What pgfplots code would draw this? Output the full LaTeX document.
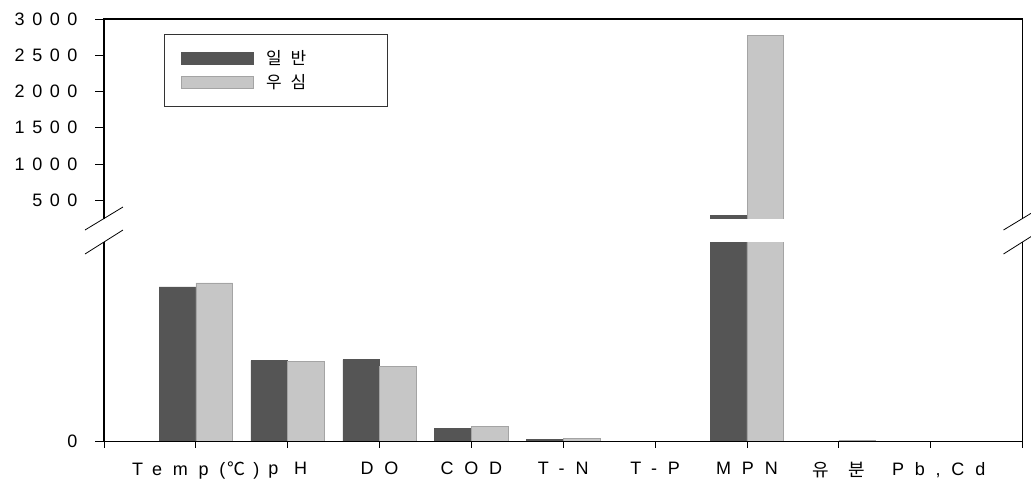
\documentclass[border=0pt]{standalone}
\usepackage{pgfplots}
\pgfplotsset{compat=1.18}
\usepackage{pgfplotstable}
\usepackage{fontspec}
\setmainfont{Liberation Sans}
\newfontfamily\lab[LetterSpace=42]{Liberation Sans}
\newfontfamily\xlab[LetterSpace=60]{Liberation Sans}
\newfontfamily\kr[LetterSpace=30]{Noto Sans CJK KR}
\definecolor{darkbar}{HTML}{555555}
\definecolor{lightbar}{HTML}{C6C6C6}
\definecolor{lightedge}{HTML}{A4A4A4}

\pgfplotstableread{
x a b
1 15.5 15.9
2 8.1 8.0
3 8.2 7.5
4 1.3 1.5
5 0.22 0.35
6 0.02 0.02
7 293 2780
8 0 0.15
9 0 0
}\data

\begin{document}
\begin{tikzpicture}
\pgfplotsset{
  common/.style={
    scale only axis, width=918.5pt,
    xmin=0, xmax=10,
    ybar, bar width=0.4,
    clip mode=individual,
    axis line style={draw=none},
    tick align=outside,
    major tick length=9pt,
    tick style={black, line width=0.8pt},
    ytick pos=left,
    yticklabel style={font=\lab\fontsize{18}{21}\selectfont, xshift=-14pt},
    xticklabel style={font=\xlab\fontsize{18}{21}\selectfont},
  }
}
% lower part
\begin{axis}[common, at={(0pt,0pt)}, anchor=south west, height=199.5pt,
  ymin=0, ymax=20, ytick={0}, yticklabels={0},
  xtick={0,1,2,3,4,5,6,7,8,9,10}, xtick pos=bottom,
  xticklabels={,{Temp(\hspace{2pt}{\kr ℃}\hspace{8pt})},p H,DO,COD,T-N,T-P,MPN,{\kr 유\hspace{20pt}분},{\hspace{16pt}Pb,Cd},},
  xtick style={/pgfplots/major tick length=6pt},
  xticklabel style={yshift=-8pt},
  restrict y to domain*=0:21,
  ]
\addplot[fill=darkbar, draw=darkbar, line width=0.6pt, bar shift=-0.2] table[x=x,y=a]{\data};
\addplot[fill=lightbar, draw=lightedge, line width=0.6pt, bar shift=0.2] table[x=x,y=b]{\data};
\draw[line width=1.5pt] (rel axis cs:0,1) -- (rel axis cs:0,0) -- (rel axis cs:1,0) -- (rel axis cs:1,1);
\draw[line width=0.8pt] ([shift={(-19pt,-12pt)}]rel axis cs:0,1) -- ([shift={(19pt,12pt)}]rel axis cs:0,1);
\draw[line width=0.8pt] ([shift={(-19pt,-12pt)}]rel axis cs:1,1) -- ([shift={(19pt,12pt)}]rel axis cs:1,1);
\end{axis}
% upper part
\begin{axis}[common, at={(0pt,222.5pt)}, anchor=south west, height=200pt,
  ymin=240, ymax=3000,
  restrict y to domain=240:100000,
  ytick={500,1000,1500,2000,2500,3000},
  yticklabels={500,1000,1500,2000,2500,3000},
  xtick=\empty,
  legend style={at={(rel axis cs:0.0654,0.925)}, anchor=north west,
    draw=black!80, line width=0.8pt, fill=white,
    font=\kr\fontsize{17}{20}\selectfont,
    inner xsep=17pt, inner ysep=14.5pt, row sep=4pt, column sep=10pt},
  legend cell align=left,
  every axis plot post/.append style={
    legend image code/.code={\fill[##1] (0pt,-6pt) rectangle (72pt,6pt);}},
  ]
\addplot[fill=darkbar, draw=darkbar, line width=0.6pt, bar shift=-0.2] table[x=x,y=a]{\data};
\addlegendentry{일 반\hspace{62pt}\null}
\addplot[fill=lightbar, draw=lightedge, line width=0.6pt, bar shift=0.2] table[x=x,y=b]{\data};
\addlegendentry{우 심\hspace{62pt}\null}
\draw[line width=1.5pt] (rel axis cs:0,0) -- (rel axis cs:0,1) -- (rel axis cs:1,1) -- (rel axis cs:1,0);
\draw[line width=0.8pt] ([shift={(-19pt,-11pt)}]rel axis cs:0,0) -- ([shift={(19pt,12pt)}]rel axis cs:0,0);
\draw[line width=0.8pt] ([shift={(-19pt,-11pt)}]rel axis cs:1,0) -- ([shift={(19pt,12pt)}]rel axis cs:1,0);
\end{axis}
\pgfresetboundingbox
\path[use as bounding box] (-104pt,-38.5pt) rectangle (927pt,441.5pt);
\end{tikzpicture}
\end{document}
